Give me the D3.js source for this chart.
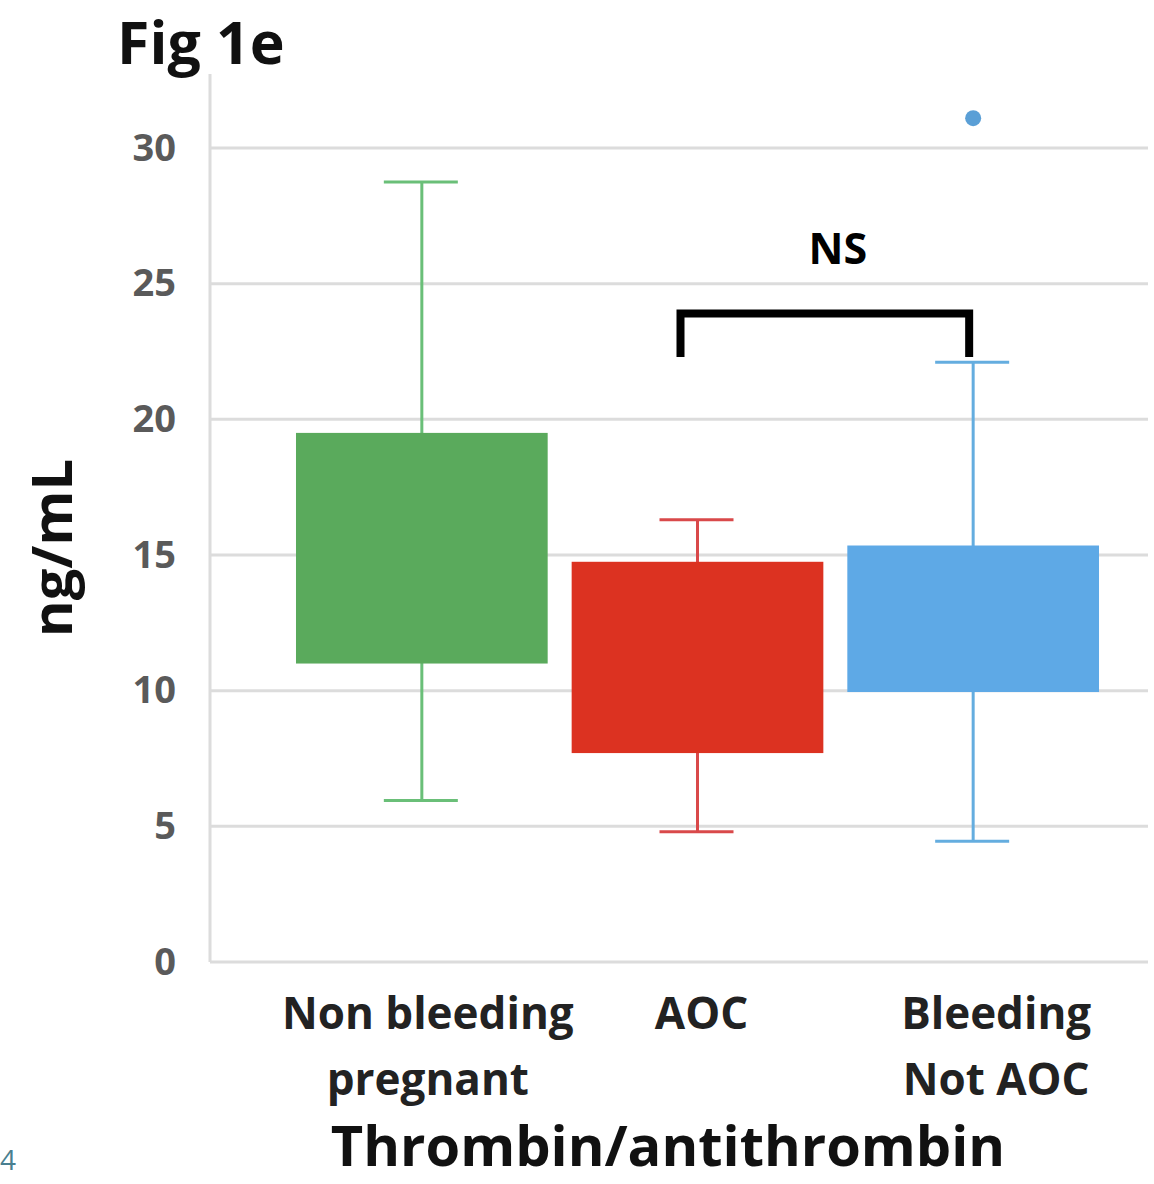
<!DOCTYPE html>
<html>
<head>
<meta charset="utf-8">
<script src="https://cdn.jsdelivr.net/npm/d3@7"></script>
<style>
  body { margin: 0; background: #fff; }
  svg text { font-family: "Open Sans", Lato, sans-serif; font-weight: bold; }
</style>
</head>
<body>
<div id="main"></div>
<script>
// data
const groups = ['Non bleeding pregnant', 'AOC', 'Bleeding Not AOC'];
const groupLines = [['Non bleeding', 'pregnant'], ['AOC'], ['Bleeding', 'Not AOC']];
const q1 = [11.0, 7.7, 9.95];
const q3 = [19.5, 14.75, 15.35];
const whiskerLow = [5.95, 4.8, 4.45];
const whiskerHigh = [28.75, 16.3, 22.1];
const outliers = [{ group: 'Bleeding Not AOC', value: 31.1 }];
const yTicks = [0, 5, 10, 15, 20, 25, 30];

// bracket between AOC and Bleeding Not AOC
const bracketTop = 23.9;
const bracketBottom = 22.3;

// colours
const boxColors = ['#5aaa5c', '#dc3221', '#5ea9e6'];
const whiskerColors = ['#6abf78', '#d9494a', '#64addf'];

const w = 1154;
const h = 1184;

const svg = d3.select('#main')
    .append('svg')
    .attr('width', w)
    .attr('height', h);

const y = d3.scaleLinear()
    .domain([0, 30])
    .range([962, 148]);

const x = d3.scaleBand()
    .domain(groups)
    .range([284, 1111])
    .paddingInner(0.087)
    .paddingOuter(0.0435);

const plotLeft = 210;
const plotRight = 1148;

// gridlines
svg.append('g')
    .selectAll('line')
    .data(yTicks)
    .enter()
    .append('line')
    .attr('x1', plotLeft)
    .attr('x2', plotRight)
    .attr('y1', d => y(d))
    .attr('y2', d => y(d))
    .attr('stroke', '#dcdcdc')
    .attr('stroke-width', 3);

// vertical axis line
svg.append('line')
    .attr('x1', plotLeft)
    .attr('x2', plotLeft)
    .attr('y1', 74)
    .attr('y2', y(0))
    .attr('stroke', '#dcdcdc')
    .attr('stroke-width', 3);

// y tick labels
const yAxis = d3.axisLeft(y)
    .tickValues(yTicks)
    .tickSize(0)
    .tickPadding(0);

const yG = svg.append('g')
    .attr('transform', `translate(${176}, 0)`)
    .call(yAxis);
yG.select('.domain').remove();
yG.selectAll('text')
    .style('font-family', '"Open Sans", Lato, sans-serif')
    .style('font-weight', 'bold')
    .style('font-size', '38px')
    .attr('fill', '#5a5a5a');

// whiskers
const boxes = svg.append('g');
groups.forEach((g, i) => {
    let cx = x(g) + x.bandwidth() / 2;
    let col = whiskerColors[i];
    boxes.append('line')
        .attr('x1', cx).attr('x2', cx)
        .attr('y1', y(whiskerHigh[i])).attr('y2', y(whiskerLow[i]))
        .attr('stroke', col).attr('stroke-width', 3);
    [whiskerHigh[i], whiskerLow[i]].forEach(v => {
        boxes.append('line')
            .attr('x1', cx - 38).attr('x2', cx + 36)
            .attr('y1', y(v)).attr('y2', y(v))
            .attr('stroke', col).attr('stroke-width', 3);
    });
});

// boxes
boxes.selectAll('rect')
    .data(groups)
    .enter()
    .append('rect')
    .attr('x', d => x(d))
    .attr('width', x.bandwidth())
    .attr('y', (d, i) => y(q3[i]))
    .attr('height', (d, i) => y(q1[i]) - y(q3[i]))
    .attr('fill', (d, i) => boxColors[i]);

// outliers
svg.selectAll('circle')
    .data(outliers)
    .enter()
    .append('circle')
    .attr('cx', d => x(d.group) + x.bandwidth() / 2)
    .attr('cy', d => y(d.value))
    .attr('r', 8)
    .attr('fill', '#5a9fd6');

// bracket
const bx1 = x('AOC') + x.bandwidth() / 2 - 17;
const bx2 = x('Bleeding Not AOC') + x.bandwidth() / 2 - 4;
svg.append('path')
    .attr('d', `M${bx1},${y(bracketBottom)} L${bx1},${y(bracketTop)} L${bx2},${y(bracketTop)} L${bx2},${y(bracketBottom)}`)
    .attr('fill', 'none')
    .attr('stroke', '#000')
    .attr('stroke-width', 8);

svg.append('text')
    .attr('x', (bx1 + bx2) / 2 + 13)
    .attr('y', 264)
    .attr('text-anchor', 'middle')
    .style('font-size', '43px')
    .text('NS');

// category labels (the last one sits a bit right of its box)
const labelShift = [6, 4, 23];
groupLines.forEach((lines, i) => {
    let cx = x(groups[i]) + x.bandwidth() / 2 + labelShift[i];
    lines.forEach((t, j) => {
        svg.append('text')
            .attr('x', cx)
            .attr('y', 1029 + j * 66)
            .attr('text-anchor', 'middle')
            .style('font-size', '44px')
            .attr('fill', '#222')
            .text(t);
    });
});

// axis titles
svg.append('text')
    .attr('x', 668)
    .attr('y', 1166)
    .attr('text-anchor', 'middle')
    .style('font-size', '56px')
    .attr('fill', '#111')
    .text('Thrombin/antithrombin');

svg.append('text')
    .attr('transform', `translate(${72}, ${548}) rotate(-90)`)
    .attr('text-anchor', 'middle')
    .style('font-size', '56px')
    .attr('fill', '#111')
    .text('ng/mL');

svg.append('text')
    .attr('x', 117)
    .attr('y', 64)
    .style('font-size', '59px')
    .attr('fill', '#111')
    .text('Fig 1e');

svg.append('text')
    .attr('x', 0)
    .attr('y', 1170)
    .style('font-size', '28px')
    .style('font-weight', 'normal')
    .attr('fill', '#4a7f90')
    .text('4');
</script>
</body>
</html>
